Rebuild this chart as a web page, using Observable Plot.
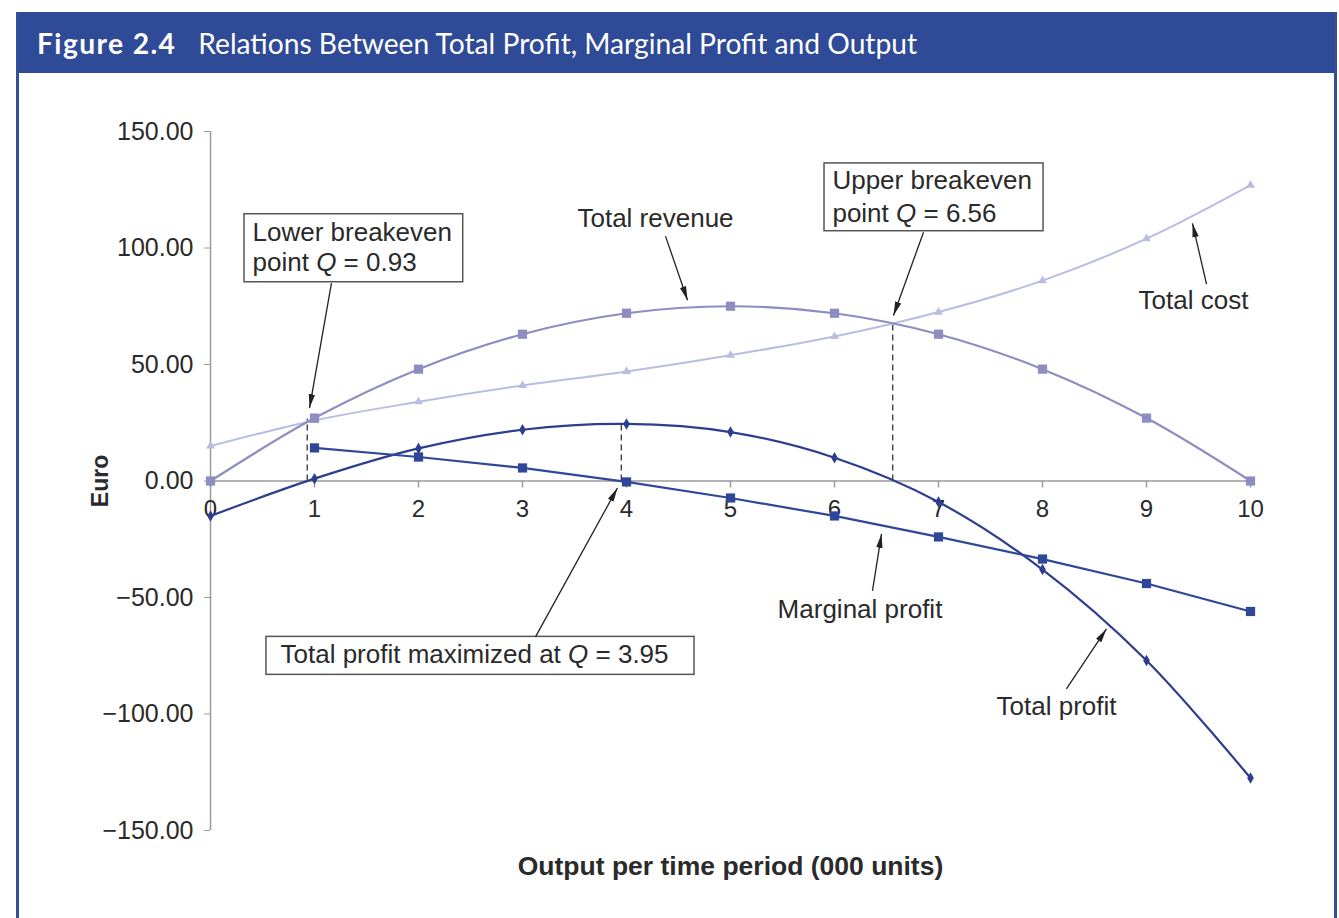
<!DOCTYPE html>
<html><head><meta charset="utf-8">
<script src="https://cdn.jsdelivr.net/npm/d3@7"></script>
<script src="https://cdn.jsdelivr.net/npm/@observablehq/plot@0.6"></script>
<style>
html,body{margin:0;padding:0;background:#fff;}
#wrap{position:absolute;left:16px;top:12px;width:1321px;height:906px;box-sizing:border-box;border-left:3px solid #34509b;border-right:3px solid #34509b;}
#title{height:61px;background:#2f4a96;color:#fff;font-family:Lato, "Open Sans", sans-serif;font-size:28.2px;display:flex;align-items:center;padding-left:18px;white-space:nowrap;}
#title b{font-weight:700;margin-right:22px;letter-spacing:1.4px;}
#chart svg{display:block;}
</style></head><body>
<div id="wrap"><div id="title"><b>Figure 2.4</b><span>Relations Between Total Profit, Marginal Profit and Output</span></div><div id="chart"></div></div>
<script>
// ---- data ----
const output = [0, 1, 2, 3, 4, 5, 6, 7, 8, 9, 10];
const totalRevenue = [0, 27, 48, 63, 72, 75, 72, 63, 48, 27, 0];
const totalCost = [15, 26, 34, 41, 47, 54, 62, 72.5, 86, 104, 127];
const totalProfit = [-15, 1, 14, 22, 24.5, 21, 10, -9, -38, -77, -127.5];
const marginalOutput = [1, 2, 3, 4, 5, 6, 7, 8, 9, 10];
const marginalProfit = [14.2, 10.3, 5.6, -0.4, -7.3, -15, -24, -33.5, -44, -56];
const yTicks = [-150, -100, -50, 0, 50, 100, 150];
const xTicks = [0, 1, 2, 3, 4, 5, 6, 7, 8, 9, 10];
const keyPointQ = [0.93, 3.95, 6.56];
const keyPointValue = [26.5, 24.5, 68];

// ---- annotation layout (data coordinates) ----
const boxes = [
  {x1: 0.327, x2: 2.43, y1: 85.3, y2: 114.5},
  {x1: 5.904, x2: 8.01, y1: 107.2, y2: 136.3},
  {x1: 0.538, x2: 4.654, y1: -66.9, y2: -83.2}
];
const boxText = [
  {x: 0.404, y: 106.6, t: "Lower breakeven"},
  {x: 0.404, y: 93.6, t: "point Q = 0.93"},
  {x: 5.98, y: 128.7, t: "Upper breakeven"},
  {x: 5.98, y: 114.9, t: "point Q = 6.56"},
  {x: 0.673, y: -74.6, t: "Total profit maximized at Q = 3.95"}
];
const labels = [
  {x: 4.279, y: 112.4, t: "Total revenue"},
  {x: 9.452, y: 77.2, t: "Total cost"},
  {x: 6.245, y: -55.3, t: "Marginal profit"},
  {x: 8.135, y: -96.9, t: "Total profit"}
];
const arrows = [
  {x1: 4.375, y1: 105.1, x2: 4.587, y2: 77.6},
  {x1: 9.577, y1: 84.5, x2: 9.442, y2: 110.6},
  {x1: 6.365, y1: -47.2, x2: 6.452, y2: -22.7},
  {x1: 8.23, y1: -89.2, x2: 8.615, y2: -63.5},
  {x1: 3.125, y1: -66.9, x2: 3.913, y2: -3},
  {x1: 1.163, y1: 84.9, x2: 0.952, y2: 31.3},
  {x1: 6.856, y1: 106.8, x2: 6.567, y2: 71}
];

const tr = output.map((q, i) => ({q, v: totalRevenue[i]}));
const tc = output.map((q, i) => ({q, v: totalCost[i]}));
const tp = output.map((q, i) => ({q, v: totalProfit[i]}));
const mp = marginalOutput.map((q, i) => ({q, v: marginalProfit[i]}));
const keys = keyPointQ.map((q, i) => ({q, v: keyPointValue[i]}));

const C = {tr: "#8d8dc2", tc: "#b9bde2", tp: "#2d3e8e", mp: "#2f4799", axis: "#9a9a9a", text: "#2a2a2a"};
const FONT = "'Liberation Sans', Arial, Helvetica, sans-serif";

function arrowHead(color, context) {
  const m = d3.create("svg:marker")
    .attr("viewBox", "-14 -7 14 14")
    .attr("markerWidth", 14).attr("markerHeight", 14)
    .attr("markerUnits", "userSpaceOnUse")
    .attr("orient", "auto");
  m.append("path").attr("d", "M-14,-3.2L0,0L-14,3.2Z").attr("fill", color).attr("stroke", "none");
  return m.node();
}

function build(marker) {
  return Plot.plot({
    width: 1315, height: 845,
    marginLeft: 191, marginRight: 84, marginTop: 58, marginBottom: 88,
    style: {fontFamily: FONT, background: "transparent", overflow: "visible"},
    x: {domain: [0, 10], axis: null},
    y: {domain: [-150, 150], axis: null},
    marks: [
      Plot.ruleX([0], {y1: -150, y2: 150, stroke: C.axis, strokeWidth: 1.5}),
      Plot.axisY(yTicks, {tickSize: 6, tickPadding: 11, tickFormat: d3.format(".2f"), fontSize: 25, stroke: C.axis, fill: C.text, label: null}),
      Plot.text(["Euro"], {frameAnchor: "left", dx: -110, rotate: -90, textAnchor: "middle", lineAnchor: "middle", fontWeight: "bold", fontSize: 23, fill: C.text}),
      Plot.ruleY([0], {x1: 0, x2: 10, stroke: C.axis, strokeWidth: 1.5}),
      Plot.ruleX(xTicks, {x: d => d, y1: 0, y2: 0, insetBottom: -7, stroke: C.axis, strokeWidth: 1.5}),
      Plot.text(xTicks, {x: d => d, y: 0, dy: 28, text: d => String(d), fontSize: 24, fill: C.text}),
      Plot.text(["Output per time period (000 units)"], {frameAnchor: "bottom", lineAnchor: "middle", dy: 36, fontWeight: "bold", fontSize: 26.5, fill: C.text}),
      Plot.ruleX(keys, {x: "q", y1: 0, y2: "v", stroke: "#333", strokeWidth: 1.3, strokeDasharray: "6,4"}),
      Plot.line(tc, {x: "q", y: "v", stroke: C.tc, strokeWidth: 2, curve: "catmull-rom"}),
      Plot.dot(tc, {x: "q", y: "v", symbol: "triangle", r: 3.3, fill: C.tc}),
      Plot.line(tr, {x: "q", y: "v", stroke: C.tr, strokeWidth: 2.2, curve: "catmull-rom"}),
      Plot.dot(tr, {x: "q", y: "v", symbol: "square", r: 5.2, fill: C.tr}),
      Plot.line(tp, {x: "q", y: "v", stroke: C.tp, strokeWidth: 2.2, curve: "catmull-rom"}),
      Plot.dot(tp, {x: "q", y: "v", symbol: "diamond", r: 3.5, fill: C.tp}),
      Plot.line(mp, {x: "q", y: "v", stroke: C.mp, strokeWidth: 2.2}),
      Plot.dot(mp, {x: "q", y: "v", symbol: "square", r: 5.2, fill: C.mp}),
      Plot.rect(boxes, {x1: "x1", x2: "x2", y1: "y1", y2: "y2", fill: "white", stroke: "#555", strokeWidth: 1.5}),
      Plot.text(boxText, {x: "x", y: "y", text: "t", textAnchor: "start", fontSize: 26, fill: C.text}),
      Plot.text(labels, {x: "x", y: "y", text: "t", fontSize: 26, fill: C.text}),
      Plot.link(arrows, {x1: "x1", y1: "y1", x2: "x2", y2: "y2", stroke: "#222", strokeWidth: 1.3, markerEnd: marker})
    ]
  });
}

let chart;
try { chart = build(arrowHead); } catch (e) { chart = build("arrow"); }

// italic Q in annotation text
const NS = "http://www.w3.org/2000/svg";
chart.querySelectorAll("text, tspan").forEach(el => {
  if (el.children.length === 0 && el.textContent.includes("Q =")) {
    const t = el.textContent, i = t.indexOf("Q =");
    el.textContent = "";
    el.setAttribute("style", "white-space:pre");
    const a = document.createElementNS(NS, "tspan"); a.textContent = t.slice(0, i);
    const q = document.createElementNS(NS, "tspan"); q.textContent = "Q"; q.setAttribute("font-style", "italic");
    const b = document.createElementNS(NS, "tspan"); b.textContent = t.slice(i + 1);
    el.append(a, q, b);
  }
});
document.getElementById("chart").append(chart);
</script>
</body></html>
